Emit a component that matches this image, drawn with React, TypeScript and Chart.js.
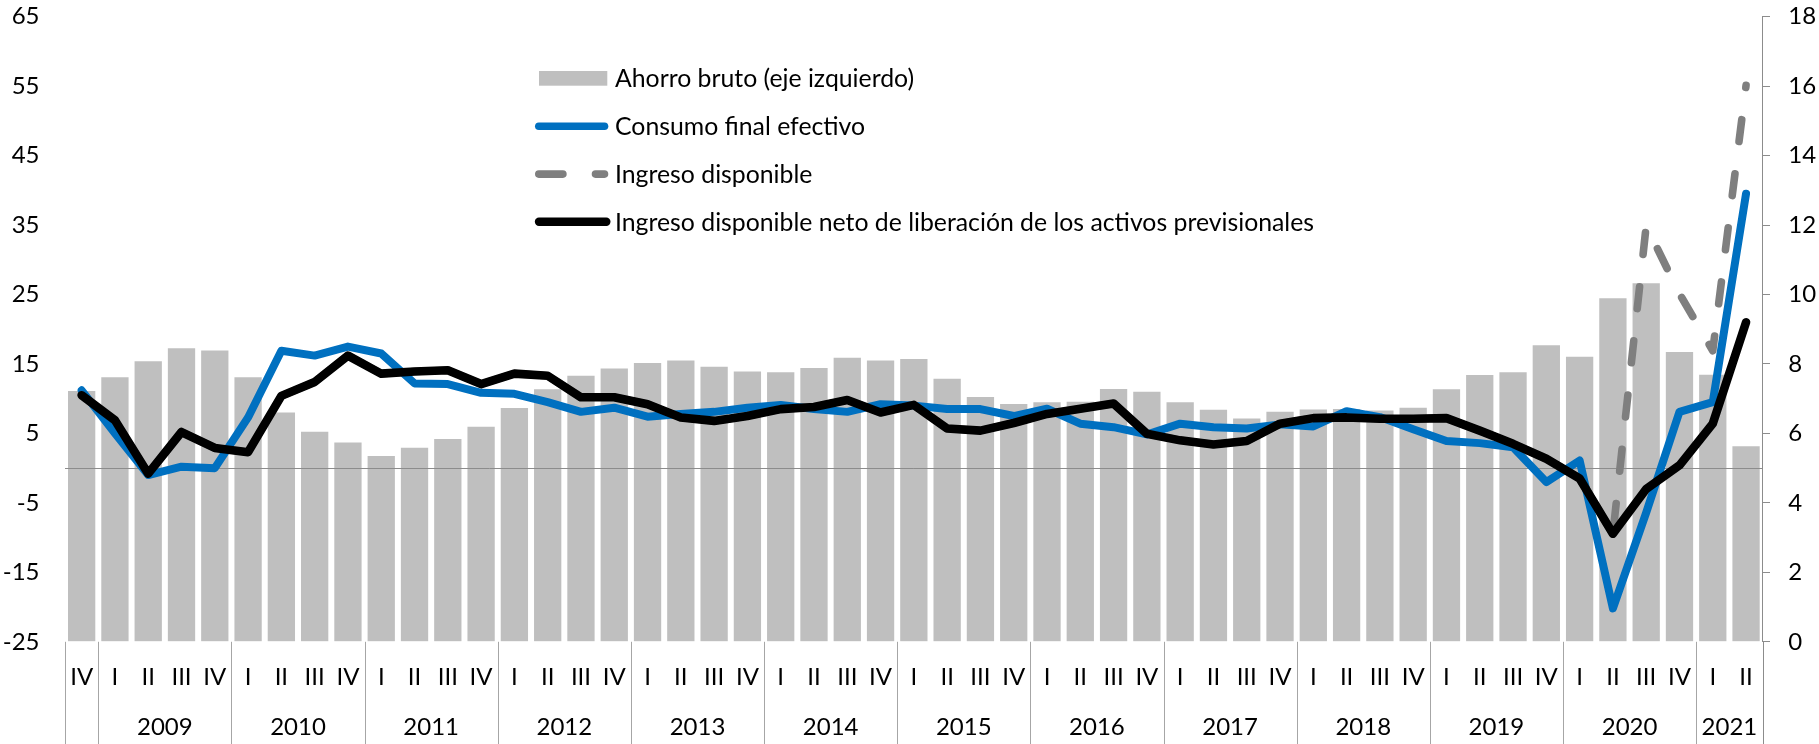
import React, { useEffect, useRef } from "react";
import { Chart, registerables } from "chart.js";

Chart.register(...registerables);

// ---------- Data ----------
const quarterLabels = [
  "IV",
  "I", "II", "III", "IV",
  "I", "II", "III", "IV",
  "I", "II", "III", "IV",
  "I", "II", "III", "IV",
  "I", "II", "III", "IV",
  "I", "II", "III", "IV",
  "I", "II", "III", "IV",
  "I", "II", "III", "IV",
  "I", "II", "III", "IV",
  "I", "II", "III", "IV",
  "I", "II", "III", "IV",
  "I", "II", "III", "IV",
  "I", "II",
];

const yearLabels = ["", "2009", "2010", "2011", "2012", "2013", "2014", "2015", "2016", "2017", "2018", "2019", "2020", "2021"];
const yearQuarterCounts = [1, 4, 4, 4, 4, 4, 4, 4, 4, 4, 4, 4, 4, 2];

// Ahorro bruto (bars)
const ahorroBruto = [
  7.22,
  7.62, 8.08, 8.45, 8.39,
  7.62, 6.60, 6.05, 5.74,
  5.35, 5.59, 5.84, 6.19,
  6.73, 7.27, 7.66, 7.87,
  8.03, 8.10, 7.92, 7.78,
  7.76, 7.88, 8.18, 8.10,
  8.14, 7.57, 7.05, 6.85,
  6.90, 6.91, 7.28, 7.20,
  6.90, 6.68, 6.43, 6.62,
  6.69, 6.70, 6.66, 6.74,
  7.27, 7.68, 7.76, 8.54,
  8.21, 9.89, 10.32, 8.34,
  7.69, 5.63,
];

// Consumo final efectivo
const consumoFinal = [
  11.2,
  5.0, -1.0, 0.2, 0.0,
  7.3, 16.9, 16.2, 17.5,
  16.5, 12.2, 12.1, 10.85,
  10.7, 9.5, 8.1, 8.7,
  7.4, 7.8, 8.1, 8.7,
  9.1, 8.5, 8.1, 9.2,
  9.0, 8.5, 8.5, 7.5,
  8.55, 6.4, 5.9, 4.85,
  6.4, 5.9, 5.7, 6.3,
  6.0, 8.2, 7.35, 5.6,
  3.9, 3.6, 3.0, -2.0,
  1.1, -20.2, -6.4, 8.1,
  9.5, 39.5,
];

// Ingreso disponible
const ingresoDisponible = [
  10.5,
  6.9, -0.8, 5.2, 2.9,
  2.3, 10.4, 12.4, 16.2,
  13.6, 13.9, 14.1, 12.1,
  13.6, 13.3, 10.2, 10.2,
  9.2, 7.3, 6.8, 7.5,
  8.5, 8.8, 9.8, 8.0,
  9.1, 5.7, 5.4, 6.5,
  7.8, 8.55, 9.3, 4.95,
  4.0, 3.4, 3.9, 6.4,
  7.2, 7.3, 7.1, 7.1,
  7.2, 5.4, 3.5, 1.35,
  -1.5, -9.45, 34.9, 25.1,
  16.9, 55.1,
];

// Ingreso disponible neto de liberación de los activos previsionales
const ingresoNeto = [
  10.5,
  6.9, -0.8, 5.2, 2.9,
  2.3, 10.4, 12.4, 16.2,
  13.6, 13.9, 14.1, 12.1,
  13.6, 13.3, 10.2, 10.2,
  9.2, 7.3, 6.8, 7.5,
  8.5, 8.8, 9.8, 8.0,
  9.1, 5.7, 5.4, 6.5,
  7.8, 8.55, 9.3, 4.95,
  4.0, 3.4, 3.9, 6.4,
  7.2, 7.3, 7.1, 7.1,
  7.2, 5.4, 3.5, 1.35,
  -1.5, -9.45, -3.0, 0.4,
  6.4, 21.0,
];

const leftTickValues = [-25, -15, -5, 5, 15, 25, 35, 45, 55, 65];
const rightTickValues = [0, 2, 4, 6, 8, 10, 12, 14, 16, 18];

const legendLabels = [
  "Ahorro bruto (eje izquierdo)",
  "Consumo final efectivo",
  "Ingreso disponible",
  "Ingreso disponible neto de liberación de los activos previsionales",
];

// first index where "Ingreso disponible" separates from the net series
const ingresoSplitIndex = 46;

// ---------- Styles ----------
const FONT_FAMILY = "Lato";
const FONT_SIZE = 24;
const FONT = `${FONT_SIZE}px ${FONT_FAMILY}`;
const LEGEND_FONT = `24.8px ${FONT_FAMILY}`;
const BAR_COLOR = "#BFBFBF";
const BLUE = "#0070C0";
const DASH_GREY = "#7F7F7F";
const BLACK = "#000000";
const AXIS_GREY = "#8C8C8C";
const SEP_GREY = "#A6A6A6";
const DASH = [22, 32.5];
const DASH_OFFSET = 46;

const overlayPlugin = {
  id: "overlay",
  afterDatasetDraw(chart: any, args: any) {
    if (args.index !== 0) return;
    const ctx = chart.ctx;
    const area = chart.chartArea;
    const y = Math.round(chart.scales.yL.getPixelForValue(0)) + 0.5;
    ctx.save();
    ctx.strokeStyle = AXIS_GREY;
    ctx.lineWidth = 1;
    ctx.beginPath();
    ctx.moveTo(area.left, y);
    ctx.lineTo(area.right, y);
    ctx.stroke();
    ctx.restore();
  },
  afterDraw(chart: any) {
    const ctx = chart.ctx;
    const area = chart.chartArea;
    const xs = chart.scales.x;
    const H = chart.height;
    ctx.save();
    ctx.font = FONT;
    ctx.fillStyle = "#000";
    ctx.textAlign = "center";
    ctx.textBaseline = "alphabetic";
    quarterLabels.forEach((q, i) => {
      ctx.fillText(q, xs.getPixelForValue(i), area.bottom + 43);
    });
    const half = (xs.getPixelForValue(1) - xs.getPixelForValue(0)) / 2;
    ctx.strokeStyle = SEP_GREY;
    ctx.lineWidth = 1;
    let start = 0;
    let lastX = 0;
    yearLabels.forEach((lab, g) => {
      const n = yearQuarterCounts[g];
      const x0 = xs.getPixelForValue(start) - half;
      const x1 = xs.getPixelForValue(start + n - 1) + half;
      const sx = Math.round(x0) + 0.5;
      ctx.beginPath();
      ctx.moveTo(sx, area.bottom);
      ctx.lineTo(sx, H);
      ctx.stroke();
      if (lab) ctx.fillText(lab, (x0 + x1) / 2, area.bottom + 93);
      start += n;
      lastX = x1;
    });
    ctx.strokeStyle = AXIS_GREY;
    const ex = Math.round(lastX) + 0.5;
    ctx.beginPath();
    ctx.moveTo(ex, area.bottom);
    ctx.lineTo(ex, H);
    ctx.stroke();

    // legend
    const symL = 535;
    const symR = 608.3;
    const textX = 615;
    const rows = [78.3, 126.2, 174.1, 221.8].map((r) => r - 16.6 + area.top);
    ctx.textAlign = "left";
    ctx.fillStyle = BAR_COLOR;
    ctx.fillRect(539, rows[0] - 7.3, 68.3, 14.7);
    ctx.lineCap = "round";
    ctx.lineWidth = 7.6;
    ctx.strokeStyle = BLUE;
    ctx.beginPath();
    ctx.moveTo(symL + 3.8, rows[1]);
    ctx.lineTo(symR - 3.8, rows[1]);
    ctx.stroke();
    ctx.strokeStyle = DASH_GREY;
    ctx.beginPath();
    ctx.moveTo(symL + 3.8, rows[2]);
    ctx.lineTo(566.7 - 3.8, rows[2]);
    ctx.moveTo(591.7 + 3.8, rows[2]);
    ctx.lineTo(symR - 3.8, rows[2]);
    ctx.stroke();
    ctx.strokeStyle = BLACK;
    ctx.lineWidth = 8.4;
    ctx.beginPath();
    ctx.moveTo(symL + 4, rows[3]);
    ctx.lineTo(symR - 2, rows[3]);
    ctx.stroke();
    ctx.fillStyle = "#000";
    ctx.font = LEGEND_FONT;
    legendLabels.forEach((t, i) => {
      ctx.fillText(t, textX, rows[i] + 8.8);
    });
    ctx.restore();
  },
};

export default function App() {
  const canvasRef = useRef<HTMLCanvasElement | null>(null);

  useEffect(() => {
    const canvas = canvasRef.current;
    if (!canvas) return;
    const chart = new Chart(canvas, {
      type: "bar",
      data: {
        labels: quarterLabels,
        datasets: [
          {
            type: "bar",
            label: legendLabels[0],
            data: ahorroBruto,
            yAxisID: "yR",
            backgroundColor: BAR_COLOR,
            borderWidth: 0,
            barPercentage: 0.82,
            categoryPercentage: 1.0,
            order: 4,
          },
          {
            type: "line",
            label: legendLabels[1],
            data: consumoFinal,
            yAxisID: "yL",
            borderColor: BLUE,
            borderWidth: 8,
            pointRadius: 0,
            tension: 0,
            borderJoinStyle: "round",
            borderCapStyle: "round",
            order: 3,
          },
          {
            type: "line",
            label: legendLabels[2],
            data: ingresoDisponible,
            yAxisID: "yL",
            borderColor: DASH_GREY,
            borderWidth: 7.6,
            borderDash: DASH,
            borderDashOffset: DASH_OFFSET,
            pointRadius: 0,
            tension: 0,
            borderJoinStyle: "round",
            borderCapStyle: "round",
            segment: {
              borderDash: (c: any) => (c.p0DataIndex < ingresoSplitIndex ? [] : DASH),
              borderDashOffset: () => DASH_OFFSET,
            },
            order: 2,
          },
          {
            type: "line",
            label: legendLabels[3],
            data: ingresoNeto,
            yAxisID: "yL",
            borderColor: BLACK,
            borderWidth: 8.6,
            pointRadius: 0,
            tension: 0,
            borderJoinStyle: "round",
            borderCapStyle: "round",
            order: 1,
          },
        ],
      },
      options: {
        responsive: true,
        maintainAspectRatio: false,
        animation: false,
        events: [],
        layout: { padding: { top: 16.6, bottom: 102.2, left: 0, right: 0 } },
        plugins: {
          legend: { display: false },
          tooltip: { enabled: false },
          title: { display: false },
        },
        scales: {
          x: {
            type: "category",
            display: false,
            offset: true,
            grid: { display: false },
          },
          yL: {
            type: "linear",
            position: "left",
            min: -25,
            max: 65,
            afterBuildTicks: (s: any) => {
              s.ticks = leftTickValues.map((v) => ({ value: v }));
            },
            afterFit: (s: any) => {
              s.width = 65;
              s.paddingTop = 0;
              s.paddingBottom = 0;
            },
            grid: { display: false, drawTicks: false },
            border: { display: false },
            ticks: {
              padding: 25.5,
              color: "#000",
              font: { family: FONT_FAMILY, size: FONT_SIZE },
            },
          },
          yR: {
            type: "linear",
            position: "right",
            min: 0,
            max: 18,
            afterBuildTicks: (s: any) => {
              s.ticks = rightTickValues.map((v) => ({ value: v }));
            },
            afterFit: (s: any) => {
              s.width = 56.3;
              s.paddingTop = 0;
              s.paddingBottom = 0;
            },
            grid: {
              drawOnChartArea: false,
              drawTicks: true,
              tickLength: 7.3,
              color: AXIS_GREY,
              lineWidth: 1,
            },
            border: { display: true, color: AXIS_GREY, width: 1 },
            ticks: {
              padding: 18.3,
              color: "#000",
              font: { family: FONT_FAMILY, size: FONT_SIZE },
            },
          },
        },
      },
      plugins: [overlayPlugin],
    });
    if ((document as any).fonts && (document as any).fonts.load) {
      (document as any).fonts.load(FONT).then(() => chart.update()).catch(() => {});
    }
    return () => {
      chart.destroy();
    };
  }, []);

  return (
    <div style={{ position: "fixed", left: 0, top: 0, width: 1819, height: 744, background: "#fff" }}>
      <canvas ref={canvasRef} />
    </div>
  );
}
